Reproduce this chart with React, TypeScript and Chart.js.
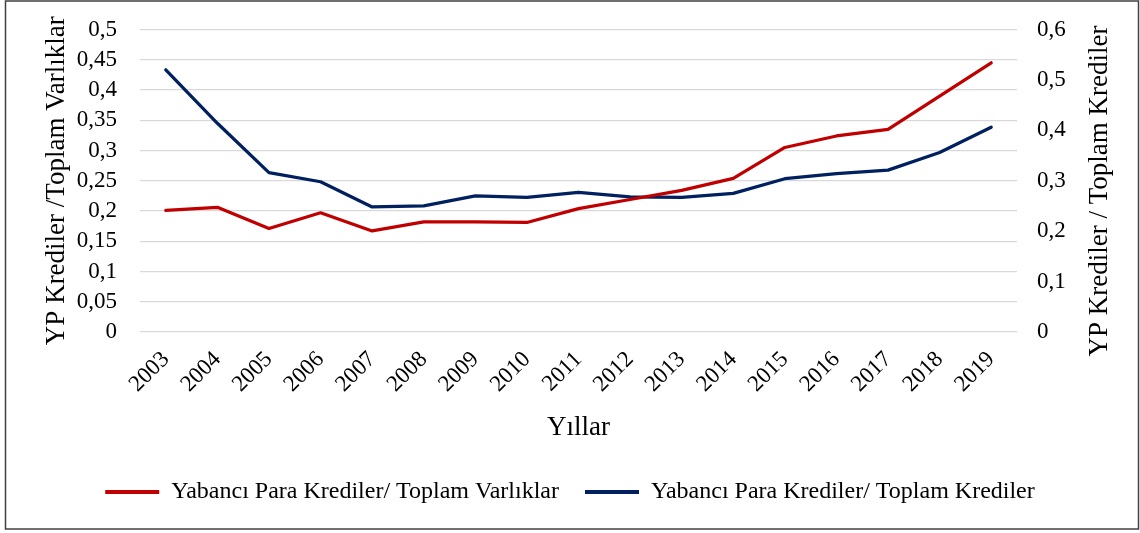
import React, { useEffect, useRef } from 'react';
import { Chart, registerables } from 'chart.js';

Chart.register(...registerables);

const years = ['2003', '2004', '2005', '2006', '2007', '2008', '2009', '2010', '2011', '2012', '2013', '2014', '2015', '2016', '2017', '2018', '2019'];
const fxLoansToAssets = [0.201, 0.206, 0.171, 0.197, 0.167, 0.182, 0.182, 0.181, 0.204, 0.219, 0.234, 0.254, 0.305, 0.324, 0.335, 0.390, 0.445];
const fxLoansToLoans = [0.520, 0.414, 0.316, 0.298, 0.248, 0.250, 0.270, 0.267, 0.277, 0.268, 0.267, 0.275, 0.304, 0.314, 0.321, 0.356, 0.406];

const seriesLabels = ['Yabancı Para Krediler/ Toplam Varlıklar', 'Yabancı Para Krediler/ Toplam Krediler'];
const leftTitle = 'YP Krediler /Toplam Varlıklar';
const rightTitle = 'YP Krediler / Toplam Krediler';
const xTitle = 'Yıllar';

const FONT = "'Liberation Serif', 'Times New Roman', serif";
const RED = '#C00000';
const BLUE = '#002060';

const fmt = (v: number) => String(Math.round(v * 100) / 100).replace('.', ',');

const framePlugin = {
  id: 'frame',
  beforeDraw(chart: any) {
    const { ctx } = chart;
    ctx.save();
    ctx.fillStyle = '#ffffff';
    ctx.fillRect(0, 0, chart.width, chart.height);
    ctx.strokeStyle = '#404040';
    ctx.lineWidth = 1.5;
    ctx.strokeRect(5.5, 1, 1133, 528);
    ctx.restore();
  },
  afterDraw(chart: any) {
    const { ctx } = chart;
    ctx.save();
    ctx.font = `27px ${FONT}`;
    ctx.fillStyle = '#000';
    ctx.textAlign = 'center';
    ctx.textBaseline = 'middle';
    ctx.translate(1100, 191);
    ctx.rotate(-Math.PI / 2);
    ctx.fillText(rightTitle, 0, 0);
    ctx.restore();
  },
};

export default function App() {
  const ref = useRef<HTMLCanvasElement>(null);
  useEffect(() => {
    if (!ref.current) return;
    const chart = new Chart(ref.current, {
      type: 'line',
      data: {
        labels: years,
        datasets: [
          {
            label: seriesLabels[0],
            data: fxLoansToAssets,
            borderColor: RED,
            backgroundColor: RED,
            borderWidth: 3.25,
            pointRadius: 0,
            tension: 0,
            borderCapStyle: 'round',
            borderJoinStyle: 'round',
            yAxisID: 'y',
          },
          {
            label: seriesLabels[1],
            data: fxLoansToLoans,
            borderColor: BLUE,
            backgroundColor: BLUE,
            borderWidth: 3.25,
            pointRadius: 0,
            tension: 0,
            borderCapStyle: 'round',
            borderJoinStyle: 'round',
            yAxisID: 'y1',
          },
        ],
      },
      options: {
        responsive: false,
        animation: false,
        layout: { padding: { top: 29.5, bottom: 19, left: 0, right: 0 } },
        plugins: {
          tooltip: { enabled: false },
          legend: {
            position: 'bottom',
            labels: {
              font: { family: FONT, size: 24 },
              color: '#000',
              boxWidth: 54,
              boxHeight: 4,
              padding: 26,
              generateLabels: (c: any) =>
                c.data.datasets.map((ds: any, i: number) => ({
                  text: ds.label,
                  fillStyle: ds.borderColor,
                  strokeStyle: ds.borderColor,
                  lineWidth: 0,
                  hidden: false,
                  datasetIndex: i,
                  fontColor: '#000',
                })),
            },
          },
        },
        scales: {
          x: {
            offset: true,
            grid: { display: false },
            border: { display: false },
            ticks: {
              font: { family: FONT, size: 23 },
              color: '#000',
              minRotation: 45,
              maxRotation: 45,
              padding: 6,
              autoSkip: false,
            },
            title: {
              display: true,
              text: xTitle,
              font: { family: FONT, size: 27 },
              color: '#000',
              padding: { top: 0, bottom: 10 },
            },
            afterFit: (s: any) => {
              s.height = 122;
            },
          },
          y: {
            position: 'left',
            min: 0,
            max: 0.5,
            grid: { color: '#D9D9D9', lineWidth: 1.3, drawTicks: true, tickLength: 8, tickColor: 'rgba(0,0,0,0)' },
            border: { display: false },
            ticks: {
              stepSize: 0.05,
              autoSkip: false,
              font: { family: FONT, size: 23 },
              color: '#000',
              padding: 15,
              callback: (v: any) => fmt(Number(v)),
            },
            title: {
              display: true,
              text: leftTitle,
              font: { family: FONT, size: 27 },
              color: '#000',
              padding: { top: 41, bottom: 0 },
            },
            afterFit: (s: any) => {
              s.width = 140;
            },
          },
          y1: {
            position: 'right',
            min: 0,
            max: 0.6,
            grid: { display: false, drawTicks: true, tickLength: 8, tickColor: 'rgba(0,0,0,0)' },
            border: { display: false },
            ticks: {
              stepSize: 0.1,
              autoSkip: false,
              font: { family: FONT, size: 23 },
              color: '#000',
              padding: 12,
              callback: (v: any) => fmt(Number(v)),
            },
            afterFit: (s: any) => {
              s.width = 123;
            },
          },
        },
      },
      plugins: [framePlugin],
    } as any);
    return () => chart.destroy();
  }, []);
  return (
    <div style={{ position: 'absolute', left: 0, top: 0, width: 1140, height: 533 }}>
      <canvas ref={ref} width={1140} height={533} style={{ display: 'block' }} />
    </div>
  );
}
